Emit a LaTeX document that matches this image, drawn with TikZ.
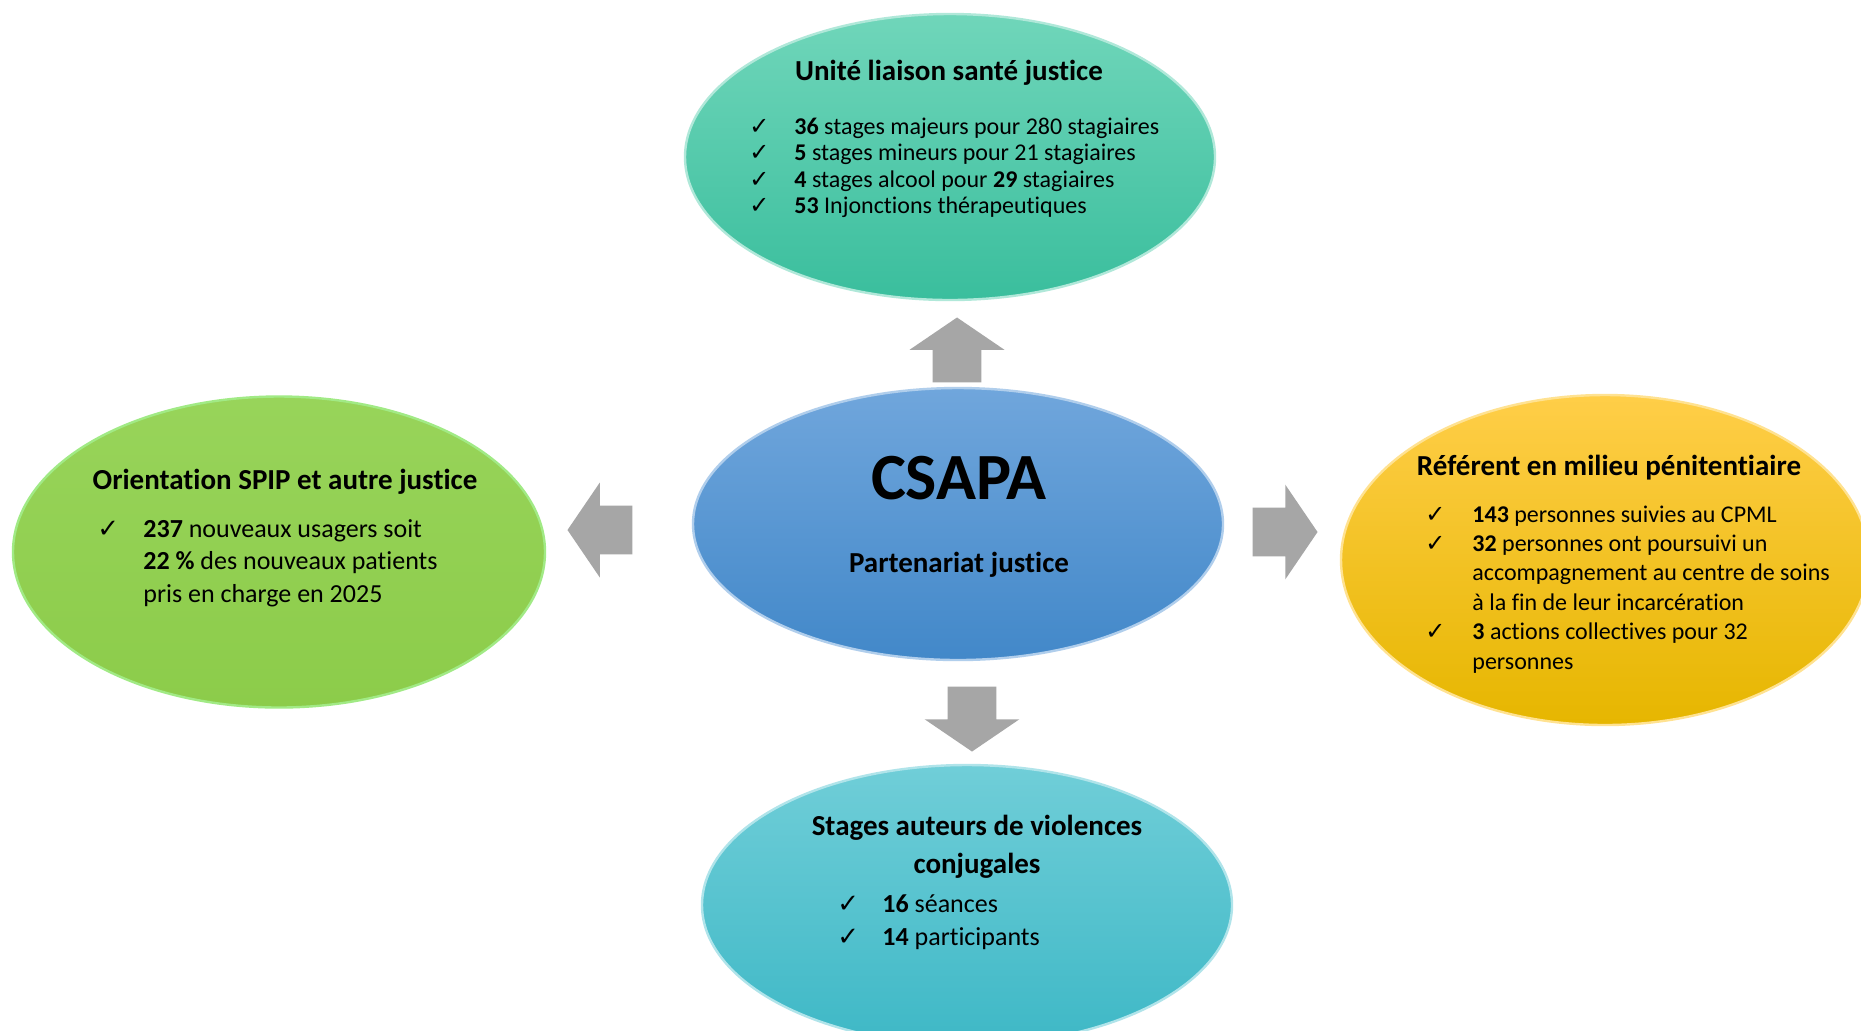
\documentclass[tikz,border=0pt]{standalone}
\usepackage{fontspec}
\setmainfont[Ligatures={NoCommon,NoRequired,NoContextual},Contextuals={NoAlternate}]{Carlito}
\newfontfamily\symfont{DejaVu Sans}
\usetikzlibrary{shapes.geometric,shapes.arrows}

\definecolor{ulsjtop}{RGB}{112,214,186}
\definecolor{ulsjbot}{RGB}{58,190,157}
\definecolor{csapatop}{RGB}{112,166,220}
\definecolor{csapabot}{RGB}{66,136,201}
\definecolor{spiptop}{RGB}{152,212,90}
\definecolor{spipbot}{RGB}{140,204,74}
\definecolor{reftop}{RGB}{255,206,72}
\definecolor{refmid}{RGB}{255,192,0}
\definecolor{refbot}{RGB}{230,182,0}
\definecolor{viotop}{RGB}{112,206,216}
\definecolor{viobot}{RGB}{62,184,198}
\definecolor{arrowgray}{RGB}{166,166,166}

\newcommand\chk{{\symfont ✓}}

\tikzset{
  bubble/.style={ellipse, inner sep=0pt, line width=1.2pt},
  head/.style={inner sep=0pt, align=center, font=\fontsize{14.5}{19}\selectfont\bfseries},
  list/.style={inner sep=0pt, anchor=base west},
  bigarrow/.style={single arrow, fill=arrowgray, inner sep=0pt, inner ysep=12pt,
    minimum height=32.5pt, single arrow head extend=11.5pt,
    single arrow tip angle=111.5, anchor=tip}
}

\begin{document}
\begin{tikzpicture}[x=0.5pt,y=-0.5pt]
  \clip (0,0) rectangle (1861,1030);
  \fill[white] (0,0) rectangle (1861,1030);

  \node[bubble, minimum width=265pt, minimum height=143pt, top color=ulsjtop,
    bottom color=ulsjbot, draw=white!45!ulsjtop] (ulsj) at (950,157) {};
  \node[bubble, minimum width=265pt, minimum height=136pt, top color=csapatop,
    bottom color=csapabot, draw=white!45!csapatop] (csapa) at (958,524) {};
  \node[bubble, minimum width=266pt, minimum height=155.5pt, top color=spiptop,
    bottom color=spipbot, draw=spipbot!70!green!60!white] (spip) at (279,552) {};
  \node[bubble, minimum width=264pt, minimum height=165pt, top color=reftop,
    middle color=refmid, bottom color=refbot, draw=white!40!reftop] (ref) at (1605,560) {};
  \node[bubble, minimum width=265pt, minimum height=140pt, top color=viotop,
    bottom color=viobot, draw=white!45!viotop] (vio) at (967,905) {};

  \node[bigarrow, rotate=90] (toulsj) at (957,317) {};
  \node[bigarrow, rotate=180] (tospip) at (567,530) {};
  \node[bigarrow] (toref) at (1318,532) {};
  \node[bigarrow, rotate=-90] (tovio) at (972,752) {};

  \node[inner sep=0pt, font=\fontsize{33}{40}\selectfont\bfseries] (csapaT) at (959,478) {CSAPA};
  \node[head] (csapaS) at (959,565) {Partenariat justice};

  \node[head] (ulsjT) at (949,73) {Unité liaison santé justice};
  \node[list, font=\fontsize{12}{13.3}\selectfont] (ulsjL) at (749,134) {%
    \begin{tabular}[t]{@{}p{22.5pt}@{}l@{}}
      \chk & \textbf{36} stages majeurs pour 280 stagiaires\\
      \chk & \textbf{5} stages mineurs pour 21 stagiaires\\
      \chk & \textbf{4} stages alcool pour \textbf{29} stagiaires\\
      \chk & \textbf{53} Injonctions thérapeutiques
    \end{tabular}};

  \node[head] (spipT) at (285,482) {Orientation SPIP et autre justice};
  \node[list, font=\fontsize{13}{16.25}\selectfont] (spipL) at (97,537) {%
    \begin{tabular}[t]{@{}p{23pt}@{}l@{}}
      \chk & \textbf{237} nouveaux usagers soit\\
           & \textbf{22 \%} des nouveaux patients\\
           & pris en charge en 2025
    \end{tabular}};

  \node[head] (refT) at (1609,468) {Référent en milieu pénitentiaire};
  \node[list, font=\fontsize{12}{14.7}\selectfont] (refL) at (1425,522) {%
    \begin{tabular}[t]{@{}p{23.5pt}@{}l@{}}
      \chk & \textbf{143} personnes suivies au CPML\\
      \chk & \textbf{32} personnes ont poursuivi un\\
           & accompagnement au centre de soins\\
           & à la fin de leur incarcération\\
      \chk & \textbf{3} actions collectives pour 32\\
           & personnes
    \end{tabular}};

  \node[head] (vioT) at (977,847) {Stages auteurs de violences\\conjugales};
  \node[list, font=\fontsize{13}{16.5}\selectfont] (vioL) at (837,912) {%
    \begin{tabular}[t]{@{}p{22.5pt}@{}l@{}}
      \chk & \textbf{16} séances\\
      \chk & \textbf{14} participants
    \end{tabular}};
\end{tikzpicture}
\end{document}
